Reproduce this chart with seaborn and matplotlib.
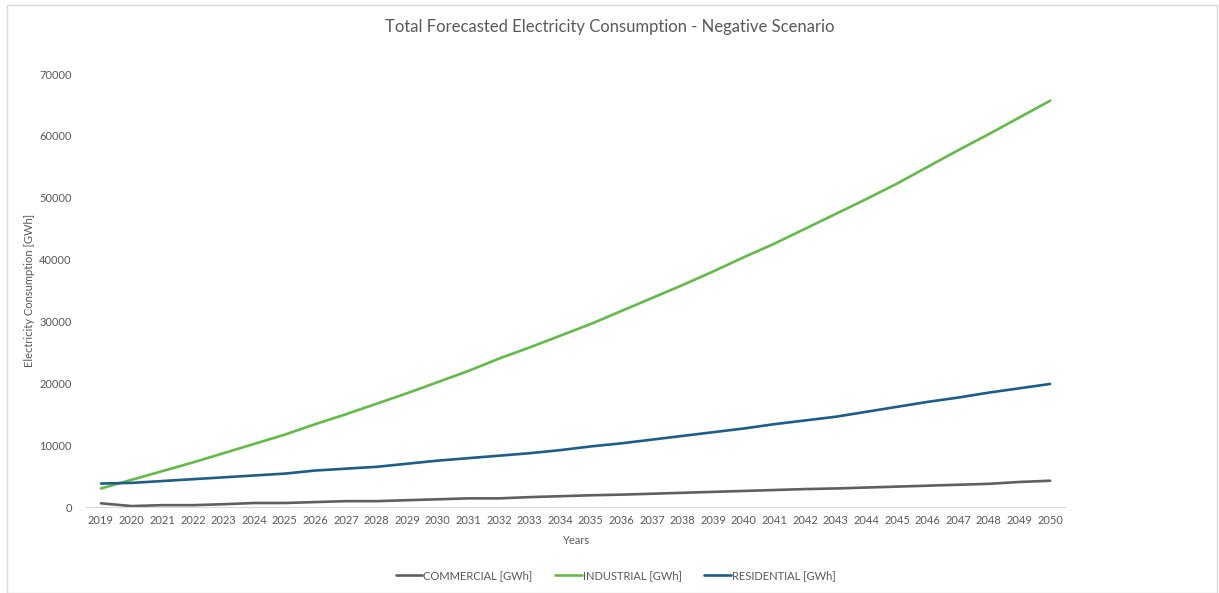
import numpy as np
import pandas as pd
import matplotlib
matplotlib.use('Agg')
import matplotlib.pyplot as plt
import seaborn as sns
from matplotlib.patches import Rectangle

# data
years = list(range(2019, 2051))
commercial = [600, 150, 300, 300, 450, 650, 650, 800, 950, 950, 1100, 1250, 1400, 1400, 1600, 1750,
              1900, 2000, 2150, 2300, 2450, 2600, 2750, 2900, 3000, 3150, 3300, 3450, 3600, 3750, 4050, 4250]
industrial = [3000, 4400, 5800, 7200, 8700, 10200, 11700, 13400, 15000, 16700, 18400, 20200, 22000, 24000,
              25800, 27700, 29600, 31700, 33800, 35900, 38100, 40400, 42600, 45000, 47400, 49800, 52300,
              55000, 57700, 60300, 63000, 65700]
residential = [3800, 3900, 4200, 4500, 4800, 5100, 5400, 5900, 6200, 6500, 7000, 7500, 7900, 8300, 8700,
               9200, 9800, 10300, 10900, 11500, 12100, 12700, 13400, 14000, 14600, 15400, 16200, 17000,
               17700, 18500, 19200, 19900]
series_names = ['COMMERCIAL [GWh]', 'INDUSTRIAL [GWh]', 'RESIDENTIAL [GWh]']
colors = ['#5f5f5f', '#62bb46', '#1c5d8a']

df = pd.DataFrame({'Year': years, series_names[0]: commercial,
                   series_names[1]: industrial, series_names[2]: residential})
long = df.melt(id_vars='Year', var_name='Series', value_name='GWh')
long['pos'] = long['Year'] - years[0]

sns.set_style('white')
plt.rcParams['font.family'] = ['Lato', 'DejaVu Sans']

fig = plt.figure(figsize=(12.19, 5.93), dpi=100)
ax = fig.add_axes([0.0703, 0.145, 0.8037, 0.730])

sns.lineplot(data=long, x='pos', y='GWh', hue='Series', palette=colors,
             linewidth=1.9, ax=ax, legend=False)

ax.set_xlim(-0.5, len(years) - 0.5)
ax.set_ylim(0, 70000)
ax.set_xticks(range(len(years)))
ax.set_xticklabels([str(y) for y in years])
ax.set_yticks(range(0, 70001, 10000))
ax.tick_params(axis='both', labelsize=8, colors='#595959', length=0)
ax.tick_params(axis='x', pad=6)
ax.tick_params(axis='y', pad=10)
for s in ['top', 'right', 'left']:
    ax.spines[s].set_visible(False)
ax.spines['bottom'].set_color('#d9d9d9')
ax.set_xlabel('Years', fontsize=8, color='#595959', labelpad=6)
ax.set_ylabel('Electricity Consumption [GWh]', fontsize=8, color='#595959')
ax.yaxis.set_label_coords(-0.052, 0.5)

fig.text(0.5, 0.955, 'Total Forecasted Electricity Consumption - Negative Scenario',
         ha='center', va='center', fontsize=12, color='#595959')

handles = [plt.Line2D([], [], color=c, lw=1.9) for c in colors]
fig.legend(handles, series_names, loc='center', bbox_to_anchor=(0.505, 0.03), ncol=3,
           frameon=False, fontsize=8, labelcolor='#595959', handlelength=2.4,
           handletextpad=0.1, columnspacing=2.0)

# chart border like the spreadsheet frame
fig.patches.append(Rectangle((0.006, 0.0), 0.992, 0.992, transform=fig.transFigure,
                             fill=False, edgecolor='#d9d9d9', lw=1))

fig.savefig('out.png', dpi=100)
